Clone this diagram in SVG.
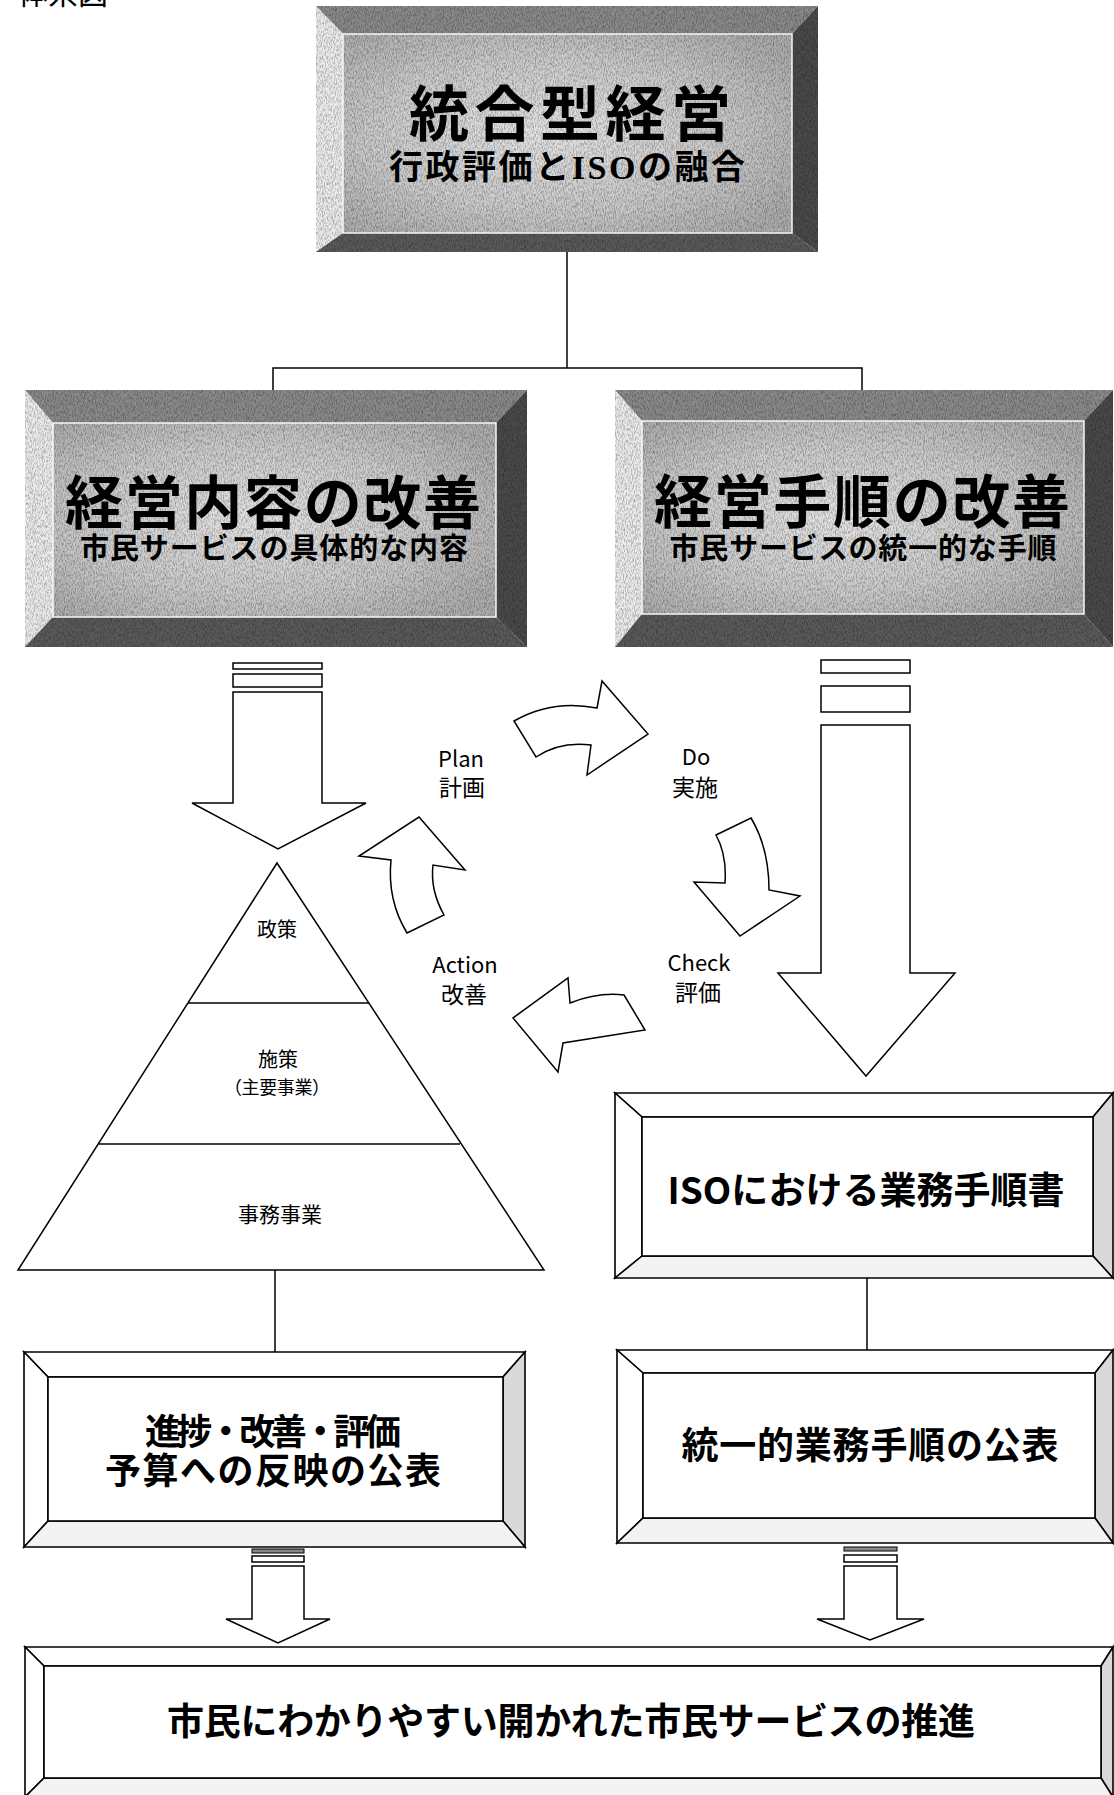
<svg xmlns="http://www.w3.org/2000/svg" width="1114" height="1795" viewBox="0 0 1114 1795">
<style>
  .bt{fill:#8a8a8a}
  .bl{fill:#ececec}
  .br{fill:#4a4a4a}
  .bb{fill:#5a5a5a}
  .face{fill:url(#faceGrad)}
  .edge{fill:none;stroke:#f6f6f6;stroke-width:1.5}
  .noise{opacity:0.3}
  .wt{fill:#fff;stroke:#000;stroke-width:1.6;stroke-linejoin:miter}
  .wr{fill:#d9d9d9;stroke:#000;stroke-width:1.6}
  .wb{fill:#f3f3f3;stroke:#000;stroke-width:1.6}
  .arrow{fill:#fff;stroke:#000;stroke-width:1.5;stroke-linejoin:miter}
  .bar{fill:#fff;stroke:#000;stroke-width:1.5}
  .ln{fill:none;stroke:#000;stroke-width:1.5}
  .jp{font-family:"Noto Sans CJK JP","Noto Sans CJK SC",sans-serif;fill:#000}
  .b{font-weight:bold}
  .m{text-anchor:middle}
</style>
<defs>
  <radialGradient id="faceGrad" cx="0.45" cy="0.5" r="0.65">
    <stop offset="0" stop-color="#e4e4e4"/>
    <stop offset="0.6" stop-color="#cacaca"/>
    <stop offset="1" stop-color="#adadad"/>
  </radialGradient>
  <filter id="grain" x="0" y="0" width="1" height="1" filterUnits="objectBoundingBox">
    <feTurbulence type="fractalNoise" baseFrequency="1.1 0.35" numOctaves="2" seed="5"/>
    <feColorMatrix type="matrix" values="0 0 0 0 0  0 0 0 0 0  0 0 0 0 0  0 0 0 -2.4 1.45"/>
  </filter>
</defs>

<rect x="0" y="0" width="1114" height="1795" fill="#fff"/>

<text class="jp" x="18" y="4" font-size="30">体系図</text>

<g id="connectors">
  <polyline class="ln" points="567,252 567,368"/>
  <polyline class="ln" points="273,392 273,368 862,368 862,390"/>
  <polyline class="ln" points="275,1270 275,1352"/>
  <polyline class="ln" points="867,1278 867,1350"/>
  <g id="arrow-left-big">
    <rect class="bar" x="233" y="663" width="89" height="6"/>
    <rect class="bar" x="233" y="674" width="89" height="13"/>
    <polygon class="arrow" points="233,692 322,692 322,803 366,803 278,849 192,803 233,803"/>
  </g>
  <g id="arrow-right-big">
    <rect class="bar" x="821" y="660" width="89" height="13"/>
    <rect class="bar" x="821" y="686" width="89" height="26"/>
    <polygon class="arrow" points="821,725 910,725 910,973 955,973 866,1076 778,973 821,973"/>
  </g>
  <g id="arrow-left-small">
    <rect x="252" y="1549" width="52" height="4" fill="#888" stroke="#000" stroke-width="1"/>
    <rect class="bar" x="252" y="1556" width="52" height="6"/>
    <polygon class="arrow" points="252,1566 304,1566 304,1619 330,1619 278,1643 226,1619 252,1619"/>
  </g>
  <g id="arrow-right-small">
    <rect x="844" y="1547" width="53" height="4" fill="#888" stroke="#000" stroke-width="1"/>
    <rect class="bar" x="844" y="1555" width="53" height="7"/>
    <polygon class="arrow" points="844,1566 897,1566 897,1619 924,1619 870,1640 817,1619 844,1619"/>
  </g>
  <path id="pdca-plan-do" class="arrow" d="M514,721 Q552,699 597,708 L602,681 L648,734 L587,775 L591,745 Q560,741 536,757 Z"/>
  <path id="pdca-do-check" class="arrow" d="M716,835 L751,818 Q769,848 769,890 L800,896 L740,936 L694,882 L725,883 Q727,855 716,835 Z"/>
  <path id="pdca-check-action" class="arrow" d="M624,995 L645,1030 Q606,1036 563,1043 L558,1072 L513,1018 L568,978 L570,1003 Q598,992 624,995 Z"/>
  <path id="pdca-action-plan" class="arrow" d="M407,933 L444,915 Q430,890 433,865 L465,870 L419,817 L359,856 L391,860 Q387,900 407,933 Z"/>
</g>

<g id="node-top">
  <polygon class="bt" points="316,6 818,6 792,34 343,34"/>
  <polygon class="bl" points="316,6 343,34 343,233 316,252"/>
  <polygon class="br" points="818,6 818,252 792,233 792,34"/>
  <polygon class="bb" points="316,252 343,233 792,233 818,252"/>
  <rect class="face" x="343" y="34" width="449" height="199"/>
  <rect class="noise" x="316" y="6" width="502" height="246" filter="url(#grain)"/>
  <rect class="edge" x="343" y="34" width="449" height="199"/>
  <text class="jp b m" x="570" y="136" font-size="60" textLength="322">統合型経営</text>
  <text class="jp b m" x="567" y="179" font-size="34" textLength="356">行政評価と<tspan font-family="Liberation Serif">ISO</tspan>の融合</text>
</g>

<g id="node-content">
  <polygon class="bt" points="25,390 527,390 496,423 53,423"/>
  <polygon class="bl" points="25,390 53,423 53,617 25,647"/>
  <polygon class="br" points="527,390 527,647 496,617 496,423"/>
  <polygon class="bb" points="25,647 53,617 496,617 527,647"/>
  <rect class="face" x="53" y="423" width="443" height="194"/>
  <rect class="noise" x="25" y="390" width="502" height="257" filter="url(#grain)"/>
  <rect class="edge" x="53" y="423" width="443" height="194"/>
  <text class="jp b m" x="273" y="524" font-size="58" textLength="416">経営内容の改善</text>
  <text class="jp b m" x="274" y="559" font-size="29" textLength="388">市民サービスの具体的な内容</text>
</g>

<g id="node-procedure">
  <polygon class="bt" points="615,390 1113,390 1084,421 642,421"/>
  <polygon class="bl" points="615,390 642,421 642,614 615,647"/>
  <polygon class="br" points="1113,390 1113,647 1084,614 1084,421"/>
  <polygon class="bb" points="615,647 642,614 1084,614 1113,647"/>
  <rect class="face" x="642" y="421" width="442" height="193"/>
  <rect class="noise" x="615" y="390" width="498" height="257" filter="url(#grain)"/>
  <rect class="edge" x="642" y="421" width="442" height="193"/>
  <text class="jp b m" x="862" y="523" font-size="58" textLength="416">経営手順の改善</text>
  <text class="jp b m" x="863" y="559" font-size="29" textLength="387">市民サービスの統一的な手順</text>
</g>

<g id="node-pdca-labels">
  <text class="jp m" x="461" y="767" font-size="22">Plan</text>
  <text class="jp m" x="462" y="796" font-size="23">計画</text>
  <text class="jp m" x="696" y="765" font-size="22">Do</text>
  <text class="jp m" x="695" y="796" font-size="23">実施</text>
  <text class="jp m" x="465" y="973" font-size="22">Action</text>
  <text class="jp m" x="464" y="1003" font-size="23">改善</text>
  <text class="jp m" x="699" y="971" font-size="22">Check</text>
  <text class="jp m" x="698" y="1001" font-size="23">評価</text>
</g>

<g id="node-pyramid">
  <polygon class="ln" points="277,863 544,1270 18,1270" stroke-width="1.3"/>
  <line class="ln" x1="188" y1="1003" x2="369" y2="1003"/>
  <line class="ln" x1="99" y1="1144" x2="460" y2="1144"/>
  <text class="jp m" x="277" y="937" font-size="20">政策</text>
  <text class="jp m" x="278" y="1067" font-size="20">施策</text>
  <text class="jp m" x="277" y="1094" font-size="18" textLength="106">（主要事業）</text>
  <text class="jp m" x="280" y="1222" font-size="21">事務事業</text>
</g>

<g id="node-iso">
  <polygon class="wt" points="615,1093 1113,1093 1093,1117 642,1117"/>
  <polygon class="wt" points="615,1093 642,1117 642,1256 615,1278"/>
  <polygon class="wr" points="1113,1093 1113,1278 1093,1256 1093,1117"/>
  <polygon class="wb" points="615,1278 642,1256 1093,1256 1113,1278"/>
  <rect class="wt" x="642" y="1117" width="451" height="139"/>
  <text class="jp b m" x="866" y="1204" font-size="37" textLength="397">ISOにおける業務手順書</text>
</g>

<g id="node-progress">
  <polygon class="wt" points="24,1352 525,1352 503,1377 48,1377"/>
  <polygon class="wt" points="24,1352 48,1377 48,1521 24,1547"/>
  <polygon class="wr" points="525,1352 525,1547 503,1521 503,1377"/>
  <polygon class="wb" points="24,1547 48,1521 503,1521 525,1547"/>
  <rect class="wt" x="48" y="1377" width="455" height="144"/>
  <text class="jp b m" x="273" y="1445" font-size="36" textLength="256">進捗・改善・評価</text>
  <text class="jp b m" x="273" y="1484" font-size="36" textLength="336">予算への反映の公表</text>
</g>

<g id="node-publish">
  <polygon class="wt" points="617,1350 1113,1350 1095,1373 643,1373"/>
  <polygon class="wt" points="617,1350 643,1373 643,1518 617,1543"/>
  <polygon class="wr" points="1113,1350 1113,1543 1095,1518 1095,1373"/>
  <polygon class="wb" points="617,1543 643,1518 1095,1518 1113,1543"/>
  <rect class="wt" x="643" y="1373" width="452" height="145"/>
  <text class="jp b m" x="870" y="1459" font-size="37" textLength="377">統一的業務手順の公表</text>
</g>

<g id="node-bottom">
  <polygon class="wt" points="25,1647 1113,1647 1101,1666 44,1666"/>
  <polygon class="wt" points="25,1647 44,1666 44,1778 25,1797"/>
  <polygon class="wr" points="1113,1647 1113,1797 1101,1778 1101,1666"/>
  <polygon class="wb" points="25,1797 44,1778 1101,1778 1113,1797"/>
  <rect class="wt" x="44" y="1666" width="1057" height="112"/>
  <text class="jp b m" x="571" y="1735" font-size="37" textLength="808">市民にわかりやすい開かれた市民サービスの推進</text>
</g>
</svg>
